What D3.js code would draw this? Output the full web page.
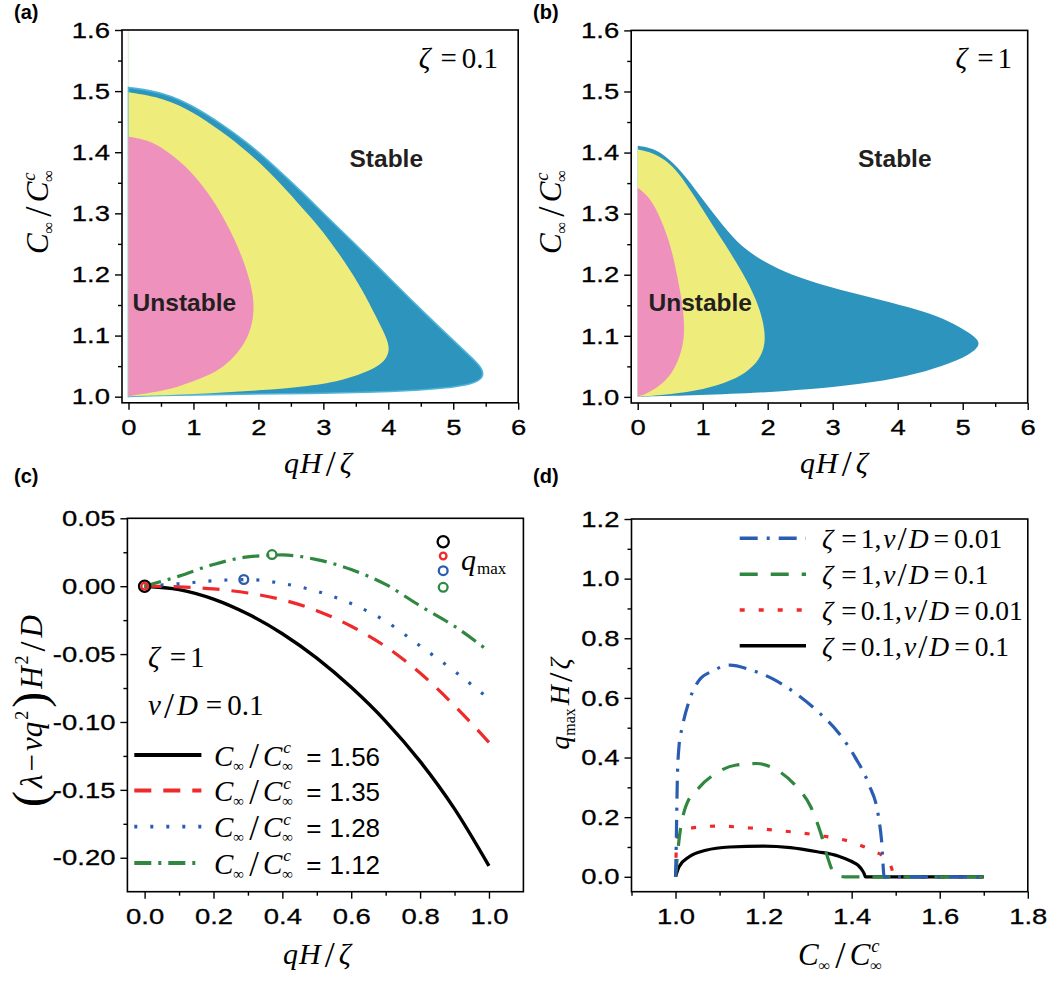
<!DOCTYPE html>
<html>
<head>
<meta charset="utf-8">
<script src="https://cdn.jsdelivr.net/npm/d3@7"></script>
<style>
  body { margin: 0; background: #fff; }
  svg { display: block; }
</style>
</head>
<body>
<div id="container"></div>
<script>
// ---------------- data ----------------
// (a) zeta = 0.1 : outer edge of each region, [qH/zeta, Cinf/Cinf^c]
const aBlue = [[0,1.506],[0.01,1.506],[0.57,1.497],[0.99,1.476],[1.41,1.448],[1.84,1.415],[2.26,1.376],
  [2.69,1.333],[3.0,1.300],[3.48,1.251],[3.96,1.200],[4.43,1.150],[4.91,1.101],[5.25,1.067],[5.46,1.046],
  [5.46,1.030],[5.30,1.021],[4.91,1.014],[4.12,1.008],[2.79,1.005],[1.47,1.004],[0.41,1.002],[0.04,1.001],[0,1.0]];
const aYellow = [[0,1.498],[0.01,1.498],[0.57,1.488],[0.99,1.466],[1.41,1.436],[1.84,1.401],[2.26,1.358],
  [2.60,1.318],[2.88,1.285],[3.12,1.252],[3.36,1.216],[3.60,1.175],[3.81,1.131],[3.97,1.098],[4.03,1.076],
  [3.94,1.057],[3.75,1.044],[3.32,1.027],[2.79,1.017],[2.0,1.010],[1.2,1.005],[0.41,1.002],[0.04,1.001],[0,1.0]];
const aPink = [[0,1.4255],[0.01,1.4255],[0.30,1.420],[0.57,1.404],[0.83,1.382],[1.10,1.352],[1.34,1.316],
  [1.54,1.278],[1.73,1.235],[1.87,1.191],[1.94,1.153],[1.91,1.120],[1.82,1.093],[1.68,1.071],[1.47,1.049],
  [1.20,1.033],[0.78,1.016],[0.36,1.0065],[0.04,1.002],[0,1.0]];

// (b) zeta = 1
const bBlue = [[0,1.411],[0.01,1.411],[0.22,1.408],[0.48,1.391],[0.74,1.361],[1.0,1.323],[1.31,1.280],
  [1.60,1.245],[1.96,1.220],[2.35,1.200],[2.87,1.182],[3.39,1.168],[3.91,1.154],[4.40,1.140],[4.80,1.124],
  [5.10,1.105],[5.31,1.088],[5.12,1.069],[4.69,1.050],[4.17,1.034],[3.39,1.020],[2.61,1.012],[1.83,1.0065],
  [0.79,1.002],[0.06,1.0005],[0,1.0]];
const bYellow = [[0,1.405],[0.01,1.405],[0.22,1.400],[0.43,1.388],[0.63,1.367],[0.84,1.334],[1.10,1.290],
  [1.36,1.247],[1.62,1.203],[1.83,1.159],[1.94,1.121],[1.97,1.088],[1.88,1.061],[1.67,1.039],[1.36,1.023],
  [0.89,1.009],[0.37,1.003],[0.06,1.001],[0,1.0]];
const bPink = [[0,1.342],[0.01,1.342],[0.17,1.328],[0.32,1.301],[0.48,1.258],[0.58,1.214],[0.66,1.170],
  [0.72,1.127],[0.71,1.088],[0.63,1.061],[0.53,1.039],[0.37,1.020],[0.17,1.007],[0.02,1.001],[0,1.0]];

// (c) (lambda - nu q^2) H^2 / D against qH/zeta
const cQ = [0, 0.1, 0.2, 0.3, 0.4, 0.5, 0.6, 0.7, 0.8, 0.9, 1.0];
const cBlack = [0, -0.0025, -0.0095, -0.0205, -0.035, -0.053, -0.0745, -0.0995, -0.129, -0.164, -0.206];
const cRed   = [0, -0.0005, -0.002, -0.005, -0.010, -0.018, -0.0295, -0.0445, -0.064, -0.088, -0.115];
const cBlue  = [0, 0.0018, 0.0040, 0.0049, 0.0020, -0.0037, -0.0128, -0.0258, -0.044, -0.0626, -0.083];
const cGreen = [0, 0.0074, 0.016, 0.0216, 0.0230, 0.0196, 0.0123, 0.0013, -0.0145, -0.0295, -0.048];
const cRatios = ['1.56', '1.35', '1.28', '1.12'];
const cMaxQ = [0, 0, 0.288, 0.37];
const cMaxV = [0, 0, 0.0049, 0.0233];

// (d) q_max H / zeta against Cinf/Cinf^c
const dBlueX  = [1.0, 1.0015, 1.004, 1.008, 1.015, 1.031, 1.054, 1.084, 1.123, 1.169, 1.223, 1.276, 1.322, 1.369, 1.407, 1.438, 1.461, 1.468, 1.474, 1.70];
const dBlueY  = [0, 0.10, 0.32, 0.44, 0.50, 0.59, 0.66, 0.69, 0.71, 0.695, 0.662, 0.612, 0.556, 0.485, 0.403, 0.313, 0.201, 0.12, 0, 0];
const dGreenX = [1.0, 1.0077, 1.023, 1.054, 1.092, 1.138, 1.184, 1.230, 1.276, 1.307, 1.330, 1.345, 1.361, 1.384, 1.70];
const dGreenY = [0, 0.12, 0.235, 0.30, 0.347, 0.375, 0.38, 0.358, 0.30, 0.235, 0.145, 0.067, 0.011, 0, 0];
const dRedX   = [1.0, 1.002, 1.008, 1.031, 1.092, 1.184, 1.261, 1.338, 1.399, 1.445, 1.476, 1.491, 1.495, 1.70];
const dRedY   = [0, 0.10, 0.145, 0.162, 0.17, 0.162, 0.151, 0.136, 0.117, 0.089, 0.062, 0.028, 0, 0];
const dBlackX = [1.0, 1.008, 1.031, 1.069, 1.123, 1.2, 1.261, 1.322, 1.369, 1.399, 1.415, 1.424, 1.429, 1.431, 1.70];
const dBlackY = [0, 0.034, 0.067, 0.089, 0.1, 0.103, 0.098, 0.084, 0.070, 0.052, 0.038, 0.022, 0.008, 0, 0];
const dZeta = ['1', '1', '0.1', '0.1'];
const dNuD  = ['0.01', '0.1', '0.01', '0.1'];

// tick values
const abXTicks = [0, 1, 2, 3, 4, 5, 6];
const abXMinor = [0.5, 1.5, 2.5, 3.5, 4.5, 5.5];
const abYTicks = [1.0, 1.1, 1.2, 1.3, 1.4, 1.5, 1.6];
const abYMinor = [1.05, 1.15, 1.25, 1.35, 1.45, 1.55];
const cXTicks = [0, 0.2, 0.4, 0.6, 0.8, 1.0];
const cXMinor = [0.1, 0.3, 0.5, 0.7, 0.9];
const cYTicks = [0.05, 0, -0.05, -0.1, -0.15, -0.2];
const cYMinor = [0.025, -0.025, -0.075, -0.125, -0.175];
const dXTicks = [1.0, 1.2, 1.4, 1.6, 1.8];
const dXMinor = [0.9, 1.1, 1.3, 1.5, 1.7];
const dYTicks = [0, 0.2, 0.4, 0.6, 0.8, 1.0, 1.2];
const dYMinor = [0.1, 0.3, 0.5, 0.7, 0.9, 1.1];

// ---------------- drawing ----------------
const SERIF = '"Liberation Serif", "Times New Roman", serif';
const SANS = '"Liberation Sans", Arial, Helvetica, sans-serif';
const SX = 1.22; // tick labels of the original are wide
const RED = '#ee2a2a', BLUE = '#2a5db2', GREEN = '#2f8740';

const svg = d3.select('#container').append('svg')
  .attr('width', 1050).attr('height', 981)
  .style('background', '#fff');

// scales of the four panels
const xA = d3.scaleLinear().domain([-0.1, 6]).range([122, 518.2]);
const yA = d3.scaleLinear().domain([0.99, 1.6]).range([402.8, 30]);
const xB = d3.scaleLinear().domain([-0.1, 6]).range([631.2, 1027.7]);
const yB = d3.scaleLinear().domain([0.99, 1.6]).range([403, 30.4]);
const xC = d3.scaleLinear().domain([-0.05, 1.1]).range([127.4, 523.4]);
const yC = d3.scaleLinear().domain([-0.225, 0.05]).range([891.7, 518.3]);
const xD = d3.scaleLinear().domain([0.9, 1.8]).range([631.5, 1027.8]);
const yD = d3.scaleLinear().domain([-0.05, 1.2]).range([891.7, 519]);

// text made of pieces: [text, 'i'|'r'|'s', size, baseline shift, dx]
function mathText(x, y, parts, anchor, rotate) {
  const t = svg.append('text')
    .attr('text-anchor', anchor || 'start')
    .attr('fill', '#000')
    .attr('transform', `translate(${x},${y})` + (rotate ? ' rotate(-90)' : ''));
  let cur = 0;
  parts.forEach(p => {
    const b = p[3] || 0;
    t.append('tspan')
      .attr('font-family', p[1] === 's' ? SANS : SERIF)
      .attr('font-style', p[1] === 'i' ? 'italic' : 'normal')
      .attr('font-size', p[2])
      .attr('dx', p[4] || 0)
      .attr('dy', b - cur)
      .text(p[0]);
    cur = b;
  });
  return t;
}

// C_inf / C_inf^c
const cRatioParts = (s) => [
  ['C', 'i', s], ['∞', 'r', s * 0.53, s * 0.18], ['/', 'r', s * 1.2, s * 0.1, 5],
  ['C', 'i', s, 0, 4], ['c', 'i', s * 0.6, -s * 0.42, 1], ['∞', 'r', s * 0.53, s * 0.18, -(s * 0.6 * 0.444) - 1]
];
const qHzParts = [['q', 'i', 30], ['H', 'i', 30, 0, 1], ['/', 'r', 36, 3, 4], ['ζ', 'i', 30, 0, 4]];

function clip(id, x, y) {
  svg.append('clipPath').attr('id', id).append('rect')
    .attr('x', x.range()[0]).attr('y', y.range()[1])
    .attr('width', x.range()[1] - x.range()[0])
    .attr('height', y.range()[0] - y.range()[1]);
  return `url(#${id})`;
}

function drawAxes(x, y, xMaj, xMin, yMaj, yMin, xFmt, yFmt) {
  const [x0, x1] = x.range(), [y0, y1] = y.range();
  const clean = g => g.attr('font-size', null).attr('font-family', null)
    .call(s => s.select('.domain').remove())
    .call(s => s.selectAll('line').attr('stroke-width', 1.4));
  const tickText = s => s.attr('font-family', SANS).attr('font-size', 22.5)
    .attr('fill', '#000').attr('stroke', '#000').attr('stroke-width', 0.3)
    .attr('transform', `scale(${SX},1)`);

  svg.append('g').attr('transform', `translate(0,${y0})`)
    .call(d3.axisBottom(x).tickValues(xMin).tickSize(4).tickFormat(''))
    .call(clean);
  svg.append('g').attr('transform', `translate(0,${y0})`)
    .call(d3.axisBottom(x).tickValues(xMaj).tickSize(7).tickPadding(9.5).tickFormat(xFmt))
    .call(clean)
    .call(g => g.selectAll('text').call(tickText));

  svg.append('g').attr('transform', `translate(${x0},0)`)
    .call(d3.axisLeft(y).tickValues(yMin).tickSize(4).tickFormat(''))
    .call(clean);
  svg.append('g').attr('transform', `translate(${x0},0)`)
    .call(d3.axisLeft(y).tickValues(yMaj).tickSize(7).tickPadding(5).tickFormat(yFmt))
    .call(clean)
    .call(g => g.selectAll('text').call(tickText).attr('x', -12 / SX));

  // box round the plot
  svg.append('rect')
    .attr('x', x0).attr('y', y1).attr('width', x1 - x0).attr('height', y0 - y1)
    .attr('fill', 'none').attr('stroke', '#000').attr('stroke-width', 1.6);
}

function region(x, y, pts, fill, cp, stroke) {
  const line = d3.line().x(d => x(d[0])).y(d => y(d[1])).curve(d3.curveBasis);
  svg.append('path')
    .attr('clip-path', cp)
    .attr('d', line(pts) + 'Z')
    .attr('fill', fill)
    .attr('stroke', stroke || 'none')
    .attr('stroke-width', stroke ? 1.6 : 0);
}

function label(t, x, y) {
  svg.append('text').attr('x', x).attr('y', y)
    .attr('font-family', SANS).attr('font-weight', 'bold').attr('font-size', 20)
    .attr('fill', '#000').text(t);
}

function bold(t, x, y) {
  svg.append('text').attr('x', x).attr('y', y)
    .attr('font-family', SANS).attr('font-weight', 'bold').attr('font-size', 24.5)
    .attr('fill', '#231f20').text(t);
}

// ---- panel (a) ----
const cpA = clip('clipA', xA, yA);
svg.append('line').attr('x1', xA(0)).attr('x2', xA(0)).attr('y1', yA(1.0)).attr('y2', yA(1.6))
  .attr('stroke', '#e4f1dc').attr('stroke-width', 1.5);
region(xA, yA, aBlue, '#2d94bd', cpA, '#4fb4d8');
region(xA, yA, aYellow, '#eeec7b', cpA);
region(xA, yA, aPink, '#ef91bd', cpA);
drawAxes(xA, yA, abXTicks, abXMinor, abYTicks, abYMinor, d => String(d), d => d.toFixed(1));
mathText(498, 68, [['ζ', 'i', 29], ['=', 'r', 29, 0, 10], ['0.1', 'r', 29, 0, 5]], 'end');
bold('Stable', 349.5, 166.7);
bold('Unstable', 132.6, 310.7);
mathText(48, 212, cRatioParts(31), 'middle', true);
mathText(318, 473, qHzParts, 'middle');
label('(a)', 14, 19);

// ---- panel (b) ----
const cpB = clip('clipB', xB, yB);
region(xB, yB, bBlue, '#2d94bd', cpB);
region(xB, yB, bYellow, '#eeec7b', cpB);
region(xB, yB, bPink, '#ef91bd', cpB);
drawAxes(xB, yB, abXTicks, abXMinor, abYTicks, abYMinor, d => String(d), d => d.toFixed(1));
mathText(1012, 68, [['ζ', 'i', 29], ['=', 'r', 29, 0, 10], ['1', 'r', 29, 0, 4]], 'end');
bold('Stable', 858, 166.7);
bold('Unstable', 648.5, 310.7);
mathText(561, 212, cRatioParts(31), 'middle', true);
mathText(834, 473, qHzParts, 'middle');
label('(b)', 533, 19);

// ---- panel (c) ----
const cpC = clip('clipC', xC, yC);
const cSeries = [cBlack, cRed, cBlue, cGreen];
const cColors = ['#000', RED, BLUE, GREEN];
const cDash = [null, '17,12', '3,13', '17,7,3,7'];
const cWidth = [3.4, 3.2, 3.2, 3.2];
const cLine = d3.line().x((d, i) => xC(cQ[i])).y(d => yC(d)).curve(d3.curveMonotoneX);
cSeries.forEach((s, k) => {
  svg.append('path').attr('clip-path', cpC)
    .attr('d', cLine(s)).attr('fill', 'none')
    .attr('stroke', cColors[k]).attr('stroke-width', cWidth[k])
    .attr('stroke-dasharray', cDash[k]);
});
const cR = [5.6, 3.3, 4.4, 4.4];
cMaxQ.forEach((q, k) => {
  svg.append('circle').attr('cx', xC(q)).attr('cy', yC(cMaxV[k])).attr('r', cR[k])
    .attr('fill', 'none').attr('stroke', cColors[k]).attr('stroke-width', 2.3);
});
drawAxes(xC, yC, cXTicks, cXMinor, cYTicks, cYMinor, d => d.toFixed(1), d => d.toFixed(2));

// marker key
const keyY = [541.7, 556, 570.7, 587.3];
cColors.forEach((c, k) => {
  svg.append('circle').attr('cx', 443.2).attr('cy', keyY[k]).attr('r', cR[k])
    .attr('fill', 'none').attr('stroke', c).attr('stroke-width', 2.3);
});
mathText(461, 570, [['q', 'i', 30], ['max', 'r', 17, 4, 1]]);

// line key
const cKeyY = [755, 790.5, 826.7, 863];
cRatios.forEach((r, k) => {
  svg.append('line').attr('x1', 134.3).attr('x2', 201.4).attr('y1', cKeyY[k]).attr('y2', cKeyY[k])
    .attr('stroke', cColors[k]).attr('stroke-width', cWidth[k] + 0.6)
    .attr('stroke-dasharray', cDash[k]);
  mathText(214, cKeyY[k] + 10.5, cRatioParts(29).concat([['=', 's', 26, 0, 13], [r, 's', 26, 0, 8]]));
});
mathText(148, 667, [['ζ', 'i', 29], ['=', 'r', 29, 0, 10], ['1', 'r', 29, 0, 4]]);
mathText(148, 715, [['ν', 'i', 29], ['/', 'r', 36, 3, 3], ['D', 'i', 29, 0, 3],
  ['=', 'r', 29, 0, 8], ['0.1', 'r', 29, 0, 5]]);
mathText(42, 711, [['(', 'r', 48, 4], ['λ', 'i', 31, 0, 3], ['−', 'r', 31, 0, 3], ['ν', 'i', 31, 0, 3],
  ['q', 'i', 31], ['2', 'r', 18, -14, 2], [')', 'r', 48, 4, 3], ['H', 'i', 31, 0, 3],
  ['2', 'r', 18, -14, 2], ['/', 'r', 36, 3, 4], ['D', 'i', 31, 0, 4]], 'middle', true);
mathText(317, 964, qHzParts, 'middle');
label('(c)', 14, 483);

// ---- panel (d) ----
const cpD = clip('clipD', xD, yD);
const dX = [dBlueX, dGreenX, dRedX, dBlackX];
const dY = [dBlueY, dGreenY, dRedY, dBlackY];
const dColors = [BLUE, GREEN, RED, '#000'];
const dDash = ['18,9,3,9', '18,13', '5,14', null];
const dOrder = [2, 3, 1, 0];
dOrder.forEach(k => {
  const line = d3.line().x(d => xD(d[0])).y(d => yD(d[1])).curve(d3.curveMonotoneX);
  svg.append('path').attr('clip-path', cpD)
    .attr('d', line(dX[k].map((v, i) => [v, dY[k][i]]))).attr('fill', 'none')
    .attr('stroke', dColors[k]).attr('stroke-width', 3.2)
    .attr('stroke-dasharray', dDash[k]);
});
drawAxes(xD, yD, dXTicks, dXMinor, dYTicks, dYMinor, d => d.toFixed(1), d => d.toFixed(1));

const dKeyY = [538.3, 574.3, 610, 645.7];
dZeta.forEach((z, k) => {
  svg.append('line').attr('x1', 739.7).attr('x2', 806).attr('y1', dKeyY[k]).attr('y2', dKeyY[k])
    .attr('stroke', dColors[k]).attr('stroke-width', 3.6)
    .attr('stroke-dasharray', dDash[k]);
  mathText(822, dKeyY[k] + 10, [['ζ', 'i', 27.5], ['=', 'r', 27.5, 0, 8], [z + ',', 'r', 27.5, 0, 4],
    ['ν', 'i', 27.5, 0, 2], ['/', 'r', 33, 2, 2], ['D', 'i', 27.5, 0, 2], ['=', 'r', 27.5, 0, 5],
    [dNuD[k], 'r', 27.5, 0, 5]]);
});
mathText(569, 704, [['q', 'i', 28], ['max', 'r', 16, 6], ['H', 'i', 28, 0, 3],
  ['/', 'r', 34, 3, 3], ['ζ', 'i', 28, 0, 3]], 'middle', true);
mathText(840, 965, cRatioParts(31), 'middle');
label('(d)', 533, 483);
</script>
</body>
</html>
